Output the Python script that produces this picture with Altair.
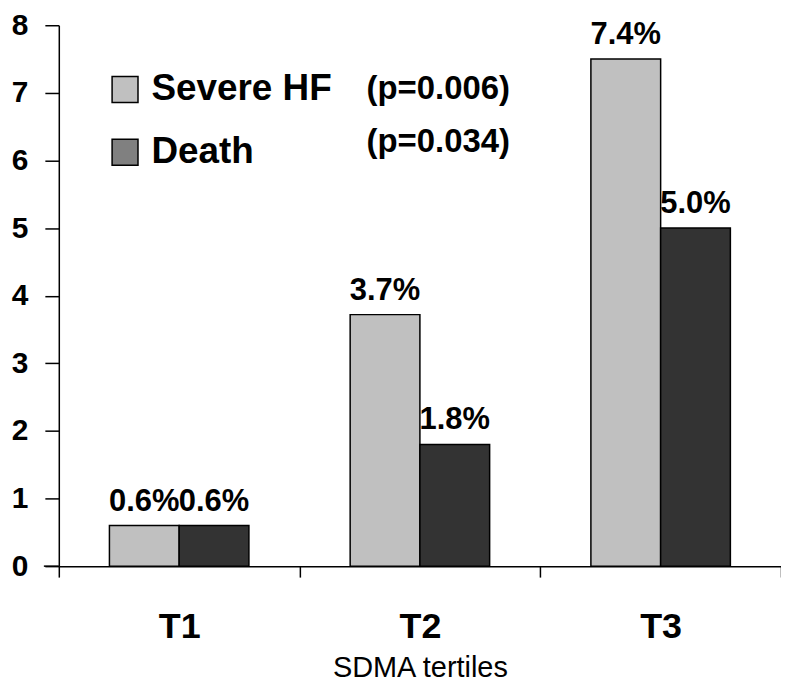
import altair as alt
import pandas as pd

tertiles = ["T1", "T2", "T3"]
series = ["Severe HF", "Death"]
severe_hf = [0.6, 3.72, 7.5]
death = [0.6, 1.8, 5.0]
severe_labels = ["0.6%", "3.7%", "7.4%"]
death_labels = ["0.6%", "1.8%", "5.0%"]
p_values = ["(p=0.006)", "(p=0.034)"]
bar_colors = ["#c0c0c0", "#333333"]
legend_colors = ["#c0c0c0", "#808080"]

rows = []
for i, t in enumerate(tertiles):
    rows.append(dict(tertile=t, series="Severe HF", value=severe_hf[i], label=severe_labels[i]))
    rows.append(dict(tertile=t, series="Death", value=death[i], label=death_labels[i]))
df = pd.DataFrame(rows)

W, H = 725, 543
FONT = "Liberation Sans"

x_enc = alt.X(
    "tertile:N", sort=tertiles,
    scale=alt.Scale(paddingInner=0, paddingOuter=0),
    axis=alt.Axis(
        title="SDMA tertiles", labelAngle=0, tickBand="extent", tickSize=11,
        labelPadding=33, labelFontSize=36, labelFontWeight="bold", labelFont=FONT,
        labelColor="black", titleFontSize=29, titleFontWeight="normal", titleFont=FONT,
        titleColor="black", titlePadding=9, domainColor="black", tickColor="black",
        domainWidth=1.5, tickWidth=1.5,
    ),
)
xoff = alt.XOffset("series:N", sort=series, scale=alt.Scale(paddingInner=0, paddingOuter=0.726))
y_enc = alt.Y(
    "value:Q", scale=alt.Scale(domain=[0, 8], nice=False),
    axis=alt.Axis(
        title=None, values=list(range(9)), tickSize=14, labelPadding=17,
        labelFontSize=30, labelFontWeight="bold", labelFont=FONT, labelColor="black",
        domainColor="black", tickColor="black", domainWidth=1.5, tickWidth=1.5, grid=False,
    ),
)

bars = alt.Chart(df).mark_bar(stroke="black", strokeWidth=1.5).encode(
    x=x_enc, xOffset=xoff, y=y_enc,
    color=alt.Color("series:N", sort=series,
                    scale=alt.Scale(domain=series, range=bar_colors), legend=None),
)

labels = alt.Chart(df).mark_text(
    dy=-15, baseline="alphabetic", fontSize=31, fontWeight="bold", font=FONT, color="black"
).encode(x=x_enc, xOffset=xoff, y=y_enc, text="label:N")

legend_layer = alt.Chart(df).mark_square(opacity=0).encode(
    color=alt.Color(
        "series:N", sort=series,
        scale=alt.Scale(domain=series, range=legend_colors),
        legend=alt.Legend(
            title=None, orient="none", legendX=48, legendY=46, padding=0,
            symbolType="square", symbolSize=676, symbolStrokeColor="black",
            symbolStrokeWidth=1.5, symbolOpacity=1, labelFontSize=37, labelFontWeight="bold",
            labelFont=FONT, labelColor="black", labelOffset=8, rowPadding=25,
            labelLimit=400,
        ),
    )
)

axis_ext = alt.Chart(pd.DataFrame({"a": [0]})).mark_rule(color="black", strokeWidth=1.5).encode(
    x=alt.value(-15), x2=alt.value(0), y=alt.value(H)
)

p_layers = []
p_y = [64, 117]
for txt, yy in zip(p_values, p_y):
    p_layers.append(
        alt.Chart(pd.DataFrame({"p": [txt]})).mark_text(
            align="left", baseline="middle", fontSize=33, fontWeight="bold", font=FONT, color="black"
        ).encode(x=alt.value(309), y=alt.value(yy), text="p:N")
    )

chart = alt.layer(bars, labels, legend_layer, axis_ext, *p_layers).resolve_scale(
    color="independent"
).properties(
    width=W, height=H,
    autosize=alt.AutoSizeParams(type="none"),
    padding={"left": 51, "top": 16, "right": 0, "bottom": 115},
    background="white",
).configure_view(stroke=None)

chart.save("out.html", embed_options={"renderer": "svg", "actions": False})
